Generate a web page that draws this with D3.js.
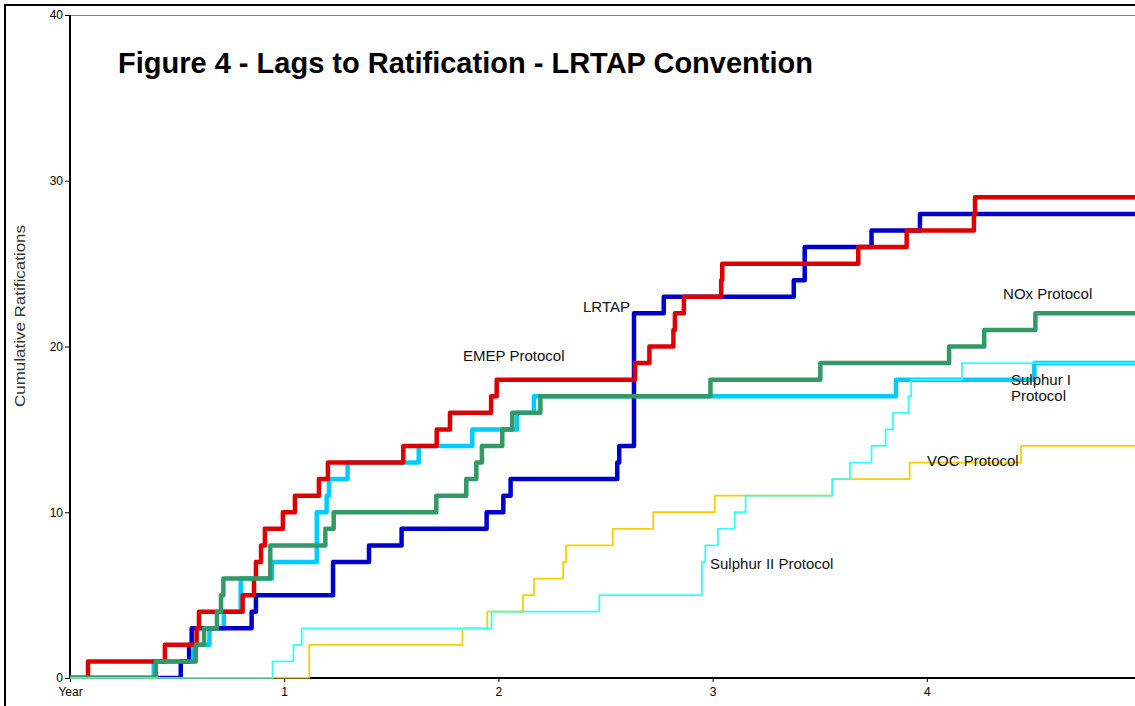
<!DOCTYPE html>
<html>
<head>
<meta charset="utf-8">
<script src="https://cdn.jsdelivr.net/npm/d3@7"></script>
<style>
  html, body { margin: 0; padding: 0; background: #fff; }
  svg { display: block; font-family: Arial, "Liberation Sans", sans-serif; }
</style>
</head>
<body>
<div class="chart-container"></div>
<script>
//! DATA (years after opening, cumulative ratifications)
const lrtapYears = [0, 0.517, 0.556, 0.568, 0.848, 0.868, 1.228, 1.396, 1.548, 1.945, 2.023, 2.057, 2.555, 2.564, 2.633, 2.772, 3.379, 3.430, 3.742, 3.968, 5];
const lrtapCounts = [0, 1, 2, 3, 4, 5, 7, 8, 9, 10, 11, 12, 13, 14, 22, 23, 24, 26, 27, 28, 28];

const emepYears = [0, 0.084, 0.443, 0.591, 0.602, 0.806, 0.859, 0.868, 0.892, 0.910, 0.994, 1.050, 1.162, 1.204, 1.556, 1.712, 1.774, 1.966, 1.992, 2.638, 2.705, 2.817, 2.824, 2.866, 3.040, 3.045, 3.680, 3.906, 4.220, 4.225, 5];
const emepCounts = [0, 1, 2, 3, 4, 5, 6, 7, 8, 9, 10, 11, 12, 13, 14, 15, 16, 17, 18, 19, 20, 21, 22, 23, 24, 25, 26, 27, 28, 29, 29];

const noxYears = [0, 0.401, 0.587, 0.626, 0.686, 0.705, 0.716, 0.935, 1.192, 1.231, 1.710, 1.850, 1.897, 1.923, 2.018, 2.065, 2.196, 2.990, 3.503, 4.104, 4.268, 4.507, 5];
const noxCounts = [0, 1, 2, 3, 4, 5, 6, 8, 9, 10, 11, 12, 13, 14, 15, 16, 17, 18, 19, 20, 21, 22, 22];

const sulphur1Years = [0, 0.391, 0.579, 0.651, 0.718, 0.797, 0.943, 1.152, 1.198, 1.209, 1.296, 1.628, 1.878, 2.087, 2.166, 3.856, 4.502, 5];
const sulphur1Counts = [0, 1, 2, 3, 4, 6, 7, 10, 11, 12, 13, 14, 15, 16, 17, 18, 19, 19];

const sulphur2Years = [0, 0.946, 1.043, 1.082, 1.968, 2.471, 2.950, 2.966, 3.025, 3.103, 3.154, 3.559, 3.641, 3.742, 3.808, 3.842, 3.915, 3.927, 4.164, 5];
const sulphur2Counts = [0, 1, 2, 3, 4, 5, 7, 8, 9, 10, 11, 12, 13, 14, 15, 16, 17, 18, 19, 19];

const vocYears = [0, 1.117, 1.832, 1.948, 2.115, 2.166, 2.302, 2.316, 2.534, 2.723, 3.010, 3.559, 3.920, 4.440, 5];
const vocCounts = [0, 2, 3, 4, 5, 6, 7, 8, 9, 10, 11, 12, 13, 14, 14];

const xTicks = [0, 1, 2, 3, 4];
const yTicks = [0, 10, 20, 30, 40];

//! CONSTS
const WIDTH = 1135;
const HEIGHT = 706;
const LEFT = 70;
const TOP = 15;
const BOTTOM = 678;
const YEAR_PX = 214.2;

// draw order: thick lines first, thin ones on top
const series = [
  { name: 'Sulphur I Protocol', years: sulphur1Years, counts: sulphur1Counts, color: '#00CCFF', width: 4.5 },
  { name: 'LRTAP', years: lrtapYears, counts: lrtapCounts, color: '#0000CC', width: 4.5 },
  { name: 'EMEP Protocol', years: emepYears, counts: emepCounts, color: '#DD0000', width: 4.5 },
  { name: 'NOx Protocol', years: noxYears, counts: noxCounts, color: '#339966', width: 4.5 },
  { name: 'VOC Protocol', years: vocYears, counts: vocCounts, color: '#FFCC00', width: 1.8 },
  { name: 'Sulphur II Protocol', years: sulphur2Years, counts: sulphur2Counts, color: '#33FFFF', width: 1.8 }
];

// line labels, placed in data units (baseline position)
const labels = [
  { text: ['EMEP Protocol'], x: 1.835, y: 19.13 },
  { text: ['LRTAP'], x: 2.395, y: 22.08 },
  { text: ['NOx Protocol'], x: 4.356, y: 22.87 },
  { text: ['Sulphur I', 'Protocol'], x: 4.393, y: 17.68 },
  { text: ['VOC Protocol'], x: 4.001, y: 12.79 },
  { text: ['Sulphur II Protocol'], x: 2.988, y: 6.58 }
];

//! SVG
const svg = d3.select('.chart-container')
  .append('svg')
  .attr('width', WIDTH)
  .attr('height', HEIGHT);

// outer frame
svg.append('rect')
  .attr('x', 5).attr('y', 5)
  .attr('width', WIDTH + 20).attr('height', HEIGHT + 20)
  .attr('fill', 'none')
  .attr('stroke', '#000')
  .attr('stroke-width', 2);

//! SCALES
const x = d3.scaleLinear().domain([0, 5]).range([LEFT, LEFT + 5 * YEAR_PX]);
const y = d3.scaleLinear().domain([0, 40]).range([BOTTOM, TOP]);

// plot area top border
svg.append('line')
  .attr('x1', LEFT).attr('x2', WIDTH)
  .attr('y1', TOP + 0.5).attr('y2', TOP + 0.5)
  .attr('stroke', '#808080')
  .attr('stroke-width', 1);

//! AXES
const xAxis = svg.append('g')
  .attr('transform', `translate(0, ${BOTTOM})`)
  .call(d3.axisBottom(x)
    .tickValues(xTicks)
    .tickSize(4)
    .tickPadding(5)
    .tickFormat(d => d === 0 ? 'Year' : d));

const yAxis = svg.append('g')
  .attr('transform', `translate(${LEFT}, 0)`)
  .call(d3.axisLeft(y)
    .tickValues(yTicks)
    .tickSize(5)
    .tickPadding(2));

[xAxis, yAxis].forEach(g => {
  g.select('.domain').attr('stroke', '#000').attr('stroke-width', 2);
  g.selectAll('.tick line').attr('stroke', '#000').attr('stroke-width', 1);
  g.selectAll('.tick text')
    .attr('fill', '#000')
    .style('font-size', '12px')
    .style('font-family', 'Arial, "Liberation Sans", sans-serif');
});
xAxis.select('.domain').attr('d', `M${LEFT},0H${WIDTH}`);
yAxis.select('.domain').attr('d', `M0,${TOP}V${BOTTOM}`);

// y axis title
svg.append('text')
  .attr('transform', `translate(25, 316) rotate(-90)`)
  .attr('text-anchor', 'middle')
  .attr('textLength', 182)
  .attr('lengthAdjust', 'spacingAndGlyphs')
  .style('font-size', '14px')
  .attr('fill', '#333')
  .text('Cumulative Ratifications');

//! LINES
svg.append('clipPath')
  .attr('id', 'plot-clip')
  .append('rect')
  .attr('x', LEFT).attr('y', TOP)
  .attr('width', WIDTH).attr('height', BOTTOM - TOP + 0.5);

const line = d3.line()
  .x(d => x(d[0]))
  .y(d => y(d[1]))
  .curve(d3.curveStepAfter);

svg.append('g')
  .attr('clip-path', 'url(#plot-clip)')
  .selectAll('path')
  .data(series)
  .enter()
  .append('path')
  .attr('d', s => line(s.years.map((yr, i) => [yr, s.counts[i]])))
  .attr('fill', 'none')
  .attr('stroke', s => s.color)
  .attr('stroke-width', s => s.width)
  .attr('stroke-linejoin', 'round');

//! LABELS
const labelText = svg.append('g')
  .selectAll('text')
  .data(labels)
  .enter()
  .append('text')
  .attr('x', d => x(d.x))
  .attr('y', d => y(d.y))
  .style('font-size', '15px')
  .attr('fill', '#111');

labelText.selectAll('tspan')
  .data(d => d.text.map((t, i) => ({ t, i, x: d.x })))
  .enter()
  .append('tspan')
  .attr('x', d => x(d.x))
  .attr('dy', d => d.i === 0 ? 0 : 16.5)
  .text(d => d.t);

//! TITLE
svg.append('text')
  .attr('x', 118)
  .attr('y', 73)
  .style('font-size', '29px')
  .style('font-weight', 'bold')
  .attr('fill', '#000')
  .text('Figure 4 - Lags to Ratification - LRTAP Convention');
</script>
</body>
</html>
